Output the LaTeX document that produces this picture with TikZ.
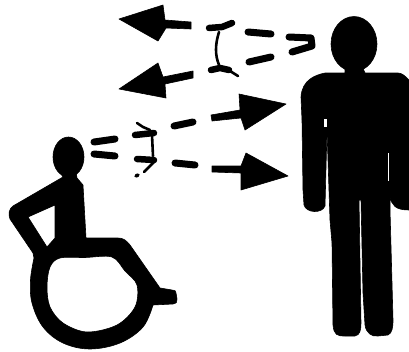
\documentclass[tikz,border=0pt]{standalone}
\begin{document}
\begin{tikzpicture}[x=1pt,y=-1pt,
  ink/.style={fill=black,draw=black,line width=.6pt,line join=round},
  dashbar/.style={draw=black,line width=7pt,line cap=round},
  lensbar/.style={draw=black,line width=6.5pt,line cap=round},
  lensthin/.style={draw=black,line width=2.6pt,line cap=round,line join=round},
  slit/.style={draw=white,line width=1pt}]
\useasboundingbox (0,0) rectangle (409,351);
\clip (0,0) rectangle (409,351);
% arrows
\fill[ink] (119,19) -- (163,5) -- (165,20) -- (191,22) -- (191,29) -- (166,28) -- (158,41) -- cycle;
\fill[ink] (119,89) -- (158,63) -- (163,77) -- (193,71) -- (193,78) -- (165,84) -- (166,98) -- cycle;
\fill[ink] (286,104) -- (239,94) -- (240,110) -- (211,115) -- (212,121) -- (241,118) -- (245,130) -- cycle;
\fill[ink] (288,176) -- (246,153) -- (241,166) -- (212,166) -- (212,172) -- (241,173) -- (241,190) -- cycle;
% dashes
\draw[dashbar] (248,32) -- (271,34);
\draw[dashbar] (249,62) -- (271,57);
\draw[dashbar,line join=round] (289,37) -- (311,38) -- (312,46) -- (292,52);
\draw[dashbar] (174,126) -- (193,122);
\draw[dashbar] (175,163) -- (195,165);
\draw[dashbar] (94,142) -- (115,139);
\draw[dashbar] (94,154) -- (115,156);
% upper lens
\draw[lensbar] (209,28) -- (222,27) -- (232,23);
\draw[lensthin] (219,32) .. controls (215,45) and (215,55) .. (219,65);
\draw[lensbar] (211,70) -- (220,68) -- (229,70);
\draw[lensthin] (230,71) -- (238,76);
% lower lens
\draw[lensbar] (135,135) -- (154,133);
\draw[lensthin] (137,123) -- (143,127) -- (150,130);
\draw[lensthin] (152,135) -- (153,156);
\draw[lensbar] (137,159) -- (154,160);
\draw[lensthin] (156,160) -- (144,172);
\draw[lensbar,line width=3.5pt] (136,176) -- (138,175);
% walking person
\fill[ink] (354,44) ellipse (23 and 27.5);
\fill[ink] (345,66) -- (345,73) -- (325,73) .. controls (315,75) and (302,80) .. (301,97)
 -- (302,120) -- (303,190) -- (304,205) .. controls (306,213) and (322,214) .. (325,206)
 -- (327,130) -- (329,190) -- (330,220) -- (332,243) -- (333,325) .. controls (334,335) and (337,336) .. (345,336)
 -- (355,336) .. controls (360,335) and (361,330) .. (361,323) -- (359,200) -- (361,200) -- (363,293) -- (365,325)
 .. controls (366,333) and (372,337) .. (378,336) -- (388,335) .. controls (392,333) and (393,328) .. (393,320) -- (390,210) -- (390,197)
 .. controls (392,205) and (395,210) .. (409,210) -- (409,80) .. controls (405,76) and (402,73) .. (398,73) -- (365,73) -- (362,66) -- cycle;
\fill[white] (323.5,119) rectangle (327,127);
\draw[slit] (388,153) -- (388,181);
% wheelchair user
\fill[ink] (68.5,157) ellipse (15.5 and 20);
\fill[ink,even odd rule]
 (60,172) -- (63,177) -- (13,206) .. controls (9,209) and (8,214) .. (10,219) -- (33,253)
 -- plot[smooth,tension=.6] coordinates {(34,258) (30.5,280) (32,303) (43,327) (63,343) (90,349) (120,343) (143,327) (153,305)}
 -- (173,304) .. controls (177,303) and (177,302) .. (177,299) -- (176,293) .. controls (176,291) and (175,290) .. (172,290)
 -- (160,288) -- (130,245) .. controls (126,240) and (123,238) .. (118,238)
 -- (86,238) -- (83,185) -- (77,178) -- (76,172) -- cycle
 plot[smooth cycle,tension=.55] coordinates {(60,258) (85,257.5) (112,257) (125,271) (137,285) (135,307) (117,325) (87,332) (63,323) (50,307) (47,287) (50,267)}
 (28,217) -- (55,205) -- (55,238) -- (47,247) -- cycle;
\end{tikzpicture}
\end{document}
